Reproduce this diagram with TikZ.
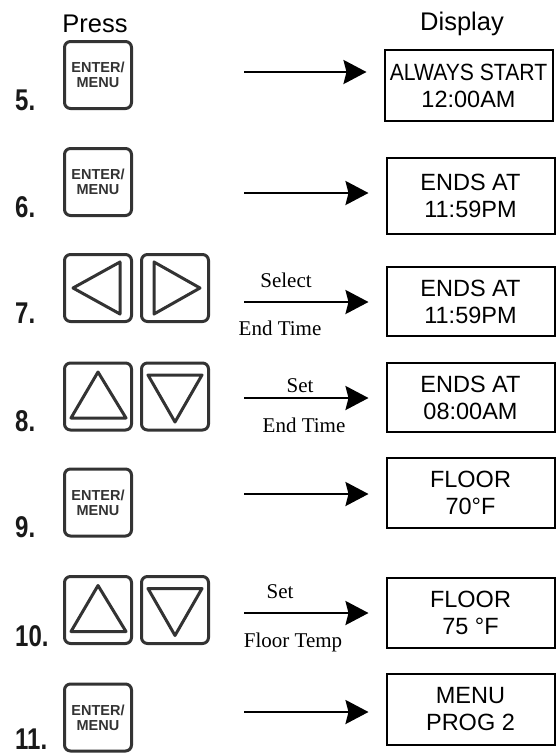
\documentclass[tikz,border=0pt]{standalone}
\usepackage{graphicx}
\usepackage{fontspec}
\setmainfont{Liberation Sans}
\newfontfamily\serifface{Liberation Serif}
\usetikzlibrary{arrows.meta}
\definecolor{btngray}{HTML}{333333}
\begin{document}
\begin{tikzpicture}[x=1pt,y=-1pt,
 btn/.style={draw=btngray, line width=3pt, rounded corners=6pt, minimum size=67pt, inner sep=0pt, outer sep=0pt, align=center, text=btngray, font=\fontsize{14.5}{15}\selectfont\bfseries},
 disp/.style={draw=black, line width=2pt, minimum width=168pt, inner sep=0pt, outer sep=0pt, align=center, font=\fontsize{23.5}{27}\selectfont},
 arr/.style={line width=2.5pt, -{Stealth[length=23pt,width=24pt,inset=3pt]}, shorten >=18pt},
 num/.style={anchor=base west, inner sep=0pt, font=\fontsize{30}{30}\selectfont\bfseries, text=black!90},
 lbl/.style={anchor=base, inner sep=0pt, font=\fontsize{21}{21}\selectfont\serifface},
 head/.style={anchor=base, inner sep=0pt, font=\fontsize{25.5}{25.5}\selectfont},
 tri/.style={draw=btngray, line width=3pt, line join=round}
]
\useasboundingbox (0,0) rectangle (557,755);

% headers
\node[head] (hpress) at (95,32) {Press};
\node[head] (hdisp) at (462,30) {Display};

% step numbers
\node[num] (n5) at (15,110) {\scalebox{0.8}[1]{5.}};
\node[num] (n6) at (15,217) {\scalebox{0.8}[1]{6.}};
\node[num] (n7) at (15,323) {\scalebox{0.8}[1]{7.}};
\node[num] (n8) at (15,431) {\scalebox{0.8}[1]{8.}};
\node[num] (n9) at (15,537) {\scalebox{0.8}[1]{9.}};
\node[num] (n10) at (15,646) {\scalebox{0.8}[1]{10.}};
\node[num] (n11) at (15,749) {\scalebox{0.8}[1]{11.}};

% buttons
\node[btn] (b5) at (98,75) {ENTER/\\MENU};
\node[btn] (b6) at (98,182) {ENTER/\\MENU};
\node[btn] (b7a) at (98,288) {};
\node[btn] (b7b) at (175,288) {};
\node[btn] (b8a) at (98,396.5) {};
\node[btn] (b8b) at (175,396.5) {};
\node[btn] (b9) at (98,502.5) {ENTER/\\MENU};
\node[btn] (b10a) at (98,610) {};
\node[btn] (b10b) at (175,610) {};
\node[btn] (b11) at (98,717.5) {ENTER/\\MENU};

% triangle glyphs
\begin{scope}[shift={(b7a.center)}]
 \draw[tri] (-25,0) -- (22,-26) -- (22,26) -- cycle;
\end{scope}
\begin{scope}[shift={(b7b.center)}]
 \draw[tri] (-21,-26) -- (25,0) -- (-21,26) -- cycle;
\end{scope}
\begin{scope}[shift={(b8a.center)}]
 \draw[tri] (0,-24.5) -- (28,21.5) -- (-27,21.5) -- cycle;
\end{scope}
\begin{scope}[shift={(b8b.center)}]
 \draw[tri] (-27,-21.5) -- (27,-21.5) -- (0,25.5) -- cycle;
\end{scope}
\begin{scope}[shift={(b10a.center)}]
 \draw[tri] (0,-24.5) -- (28,21.5) -- (-27,21.5) -- cycle;
\end{scope}
\begin{scope}[shift={(b10b.center)}]
 \draw[tri] (-27,-21.5) -- (27,-21.5) -- (0,25.5) -- cycle;
\end{scope}

% displays
\node[disp, minimum height=71pt] (d5) at (468.5,85.5) {\scalebox{0.9}[1]{ALWAYS START}\\12:00AM};
\node[disp, minimum height=76pt] (d6) at (470.5,196) {ENDS AT\\11:59PM};
\node[disp, minimum height=69pt] (d7) at (470.5,301.5) {ENDS AT\\11:59PM};
\node[disp, minimum height=69pt] (d8) at (470.5,397.5) {ENDS AT\\08:00AM};
\node[disp, minimum height=70pt] (d9) at (470.5,493) {FLOOR\\70°F};
\node[disp, minimum height=70pt] (d10) at (470.5,613) {FLOOR\\75 °F};
\node[disp, minimum height=71pt] (d11) at (470.5,709.5) {MENU\\PROG 2};

% arrow starts
\coordinate (s5) at (244,72);
\coordinate (s6) at (244,193);
\coordinate (s7) at (244,302);
\coordinate (s8) at (244,398);
\coordinate (s9) at (244,494);
\coordinate (s10) at (244,613);
\coordinate (s11) at (244,712);

\draw[arr] (s5) -- (s5 -| d5.west);
\draw[arr] (s6) -- (s6 -| d6.west);
\draw[arr] (s7) -- (s7 -| d7.west);
\draw[arr] (s8) -- (s8 -| d8.west);
\draw[arr] (s9) -- (s9 -| d9.west);
\draw[arr] (s10) -- (s10 -| d10.west);
\draw[arr] (s11) -- (s11 -| d11.west);

% arrow labels
\node[lbl] (l7a) at (286,287) {Select};
\node[lbl] (l7b) at (280,335) {End Time};
\node[lbl] (l8a) at (300,392) {Set};
\node[lbl] (l8b) at (304,432) {End Time};
\node[lbl] (l10a) at (280,598) {Set};
\node[lbl] (l10b) at (293,647) {Floor Temp};
\end{tikzpicture}
\end{document}
